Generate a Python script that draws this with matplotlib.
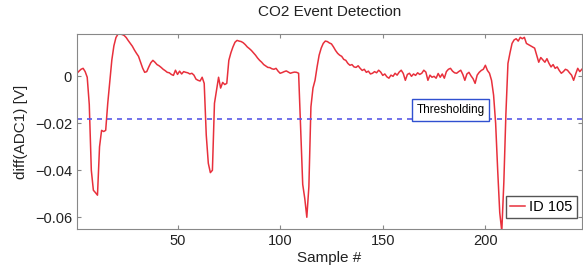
import numpy as np
import matplotlib
matplotlib.use("Agg")
import matplotlib.pyplot as plt

# diff(ADC1) values, sample 1..247
values = [
    0.0013, 0.0022, 0.0030, 0.0034, 0.0020, -0.0004, -0.012, -0.040, -0.0485, -0.0495,
    -0.0506, -0.030, -0.023, -0.0235, -0.023, -0.0115, -0.002, 0.007, 0.013, 0.0165,
    0.0180, 0.0180, 0.0178, 0.0174, 0.0165, 0.0152, 0.0140, 0.0128, 0.0112, 0.0098,
    0.0085, 0.0060, 0.0035, 0.0017, 0.0020, 0.0040, 0.0058, 0.0068, 0.0060, 0.0050,
    0.0045, 0.0038, 0.0030, 0.0024, 0.0017, 0.0015, 0.0008, 0.0004, 0.0026, 0.0008,
    0.0022, 0.0010, 0.0020, 0.0017, 0.0015, 0.0010, 0.0013, 0.0005, -0.0012, -0.0017,
    -0.0020, -0.0004, -0.003, -0.025, -0.037, -0.041, -0.040, -0.0115, -0.006, -0.0004,
    -0.005, -0.0026, -0.0035, -0.003, 0.0068, 0.010, 0.0125, 0.0145, 0.0153, 0.0150,
    0.0148, 0.0143, 0.0135, 0.0125, 0.0118, 0.011, 0.0100, 0.0090, 0.0078, 0.0068,
    0.0060, 0.0050, 0.0044, 0.0038, 0.0037, 0.0032, 0.0030, 0.0034, 0.0022, 0.0013,
    0.0016, 0.0020, 0.0023, 0.0018, 0.0013, 0.0016, 0.0018, 0.0017, 0.0013, -0.023,
    -0.046, -0.052, -0.060, -0.047, -0.013, -0.005, -0.0017, 0.004, 0.009, 0.012,
    0.014, 0.015, 0.0148, 0.0142, 0.0138, 0.0125, 0.011, 0.0098, 0.0090, 0.0085,
    0.0072, 0.0068, 0.0055, 0.0047, 0.0050, 0.0040, 0.0038, 0.0045, 0.0034, 0.0025,
    0.0030, 0.0017, 0.0022, 0.0010, 0.0013, 0.0020, 0.0015, 0.0026, 0.0018, 0.0004,
    0.0010, -0.0002, -0.0008, 0.0005, 0.0000, 0.0013, 0.0005, 0.0018, 0.0026, 0.0012,
    -0.0017, 0.0008, 0.0013, 0.0000, 0.0010, 0.0004, 0.0015, 0.0008, 0.0013, 0.0026,
    0.0018, -0.0017, 0.0005, -0.0004, 0.0000, -0.0008, 0.0012, -0.0004, 0.0010, -0.0008,
    0.0020, 0.0030, 0.0034, 0.0022, 0.0015, 0.0013, 0.0020, 0.0026, 0.0008, -0.0017,
    0.0010, 0.0017, 0.0002, -0.0010, -0.0030, 0.0005, 0.0017, 0.0025, 0.0030, 0.0047,
    0.0025, 0.0013, -0.0017, -0.008, -0.020, -0.040, -0.058, -0.066, -0.045, -0.016,
    0.0055, 0.0100, 0.0140, 0.0155, 0.0160, 0.0150, 0.0166, 0.0160, 0.0166, 0.0140,
    0.0135, 0.0130, 0.0125, 0.0120, 0.0090, 0.0060, 0.0080, 0.0070, 0.0060, 0.0075,
    0.0055, 0.0040, 0.0050, 0.0034, 0.0040, 0.0025, 0.0013, 0.0020, 0.0030, 0.0026,
    0.0015, 0.0005, -0.0017, 0.0010, 0.0034, 0.0020, 0.0030,
]
samples = np.arange(1, len(values) + 1)
threshold = -0.0183

xticks = [50, 100, 150, 200]
yticks = [-0.06, -0.04, -0.02, 0]
ytick_labels = ["\u22120.06", "\u22120.04", "\u22120.02", "0"]

plt.rcParams["font.family"] = ["Liberation Sans", "DejaVu Sans"]

fig = plt.figure(figsize=(5.83, 2.68), dpi=100)
ax = fig.add_axes([0.132, 0.1455, 0.866, 0.7275])

ax.plot(samples, values, color="#e8303c", linewidth=1.1, label="ID 105")
ax.axhline(threshold, color="#5a5ae6", linewidth=1.2, linestyle=(0, (3, 3)))
ax.text(166.5, -0.0143, "Thresholding", fontsize=8.5, va="center", ha="left",
        bbox=dict(boxstyle="square,pad=0.4", facecolor="white", edgecolor="#3050d0", linewidth=1))

ax.set_xlim(1, 247)
ax.set_ylim(-0.065, 0.018)
ax.set_xticks(xticks)
ax.set_yticks(yticks)
ax.set_yticklabels(ytick_labels)
ax.tick_params(direction="in", top=True, right=True, length=3, labelsize=10.5,
               color="#888888", labelcolor="#222222")
for sp in ax.spines.values():
    sp.set_color("#888888")

ax.set_title("CO2 Event Detection", fontsize=11, color="#222222", pad=13)
ax.set_xlabel("Sample #", fontsize=11, color="#222222", labelpad=2)
ax.set_ylabel("diff(ADC1) [V]", fontsize=11, color="#222222", labelpad=5)

leg = ax.legend(loc="lower right", bbox_to_anchor=(0.99, 0.055), fontsize=10.5,
                handlelength=1.0, handletextpad=0.3, borderpad=0.3, fancybox=False,
                framealpha=1, borderaxespad=0)
leg.get_frame().set_edgecolor("#555555")

fig.savefig("out.png", dpi=100)
